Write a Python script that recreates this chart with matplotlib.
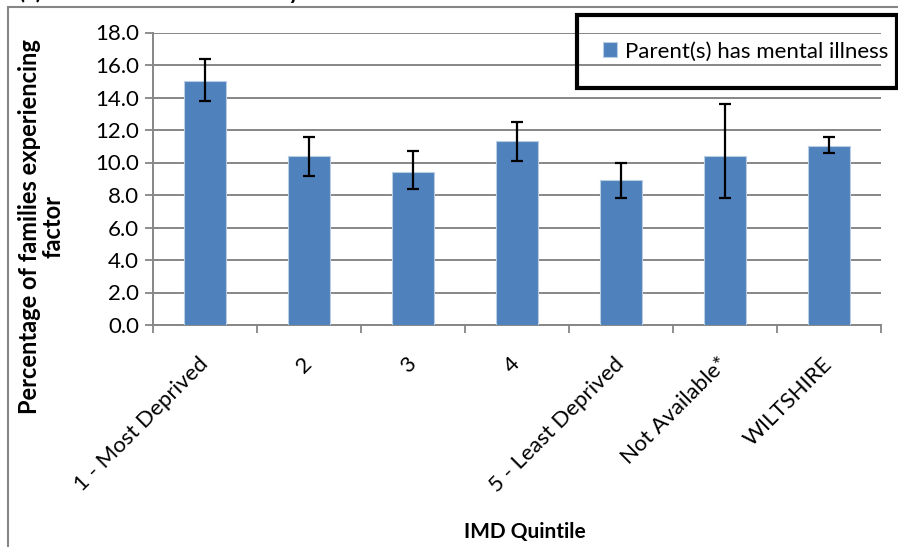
import numpy as np
import matplotlib.pyplot as plt
import matplotlib.transforms as mtransforms
from matplotlib.patches import Rectangle

# =========================
# DATA
# =========================
categories = ["1 - Most Deprived", "2", "3", "4", "5 - Least Deprived",
              "Not Available*", "WILTSHIRE"]
values = [15.0, 10.4, 9.4, 11.3, 8.9, 10.4, 11.0]
ci_upper = [16.4, 11.6, 10.7, 12.5, 10.0, 13.6, 11.6]
ci_lower = [13.8, 9.2, 8.4, 10.1, 7.8, 7.8, 10.6]
series_name = "Parent(s) has mental illness"
yticks = [0, 2, 4, 6, 8, 10, 12, 14, 16, 18]

# =========================
# STYLE
# =========================
plt.rcParams['font.family'] = ['Lato', 'DejaVu Sans']
bar_color = "#4F81BD"
axis_gray = "#868686"

W, H = 898, 547
fig = plt.figure(figsize=(W / 100, H / 100), dpi=100)
ax = fig.add_axes([153 / W, (H - 325) / H, 728 / W, 292.5 / H])

# =========================
# BARS + ERROR BARS
# =========================
x = np.arange(len(categories))
vals = np.array(values)
err = [vals - np.array(ci_lower), np.array(ci_upper) - vals]

ax.bar(x, vals, width=0.4, color=bar_color, edgecolor="#b9cde5",
       linewidth=0.8, label=series_name, zorder=3)
ax.errorbar(x, vals, yerr=err, fmt="none", ecolor="black", elinewidth=1.6,
            capsize=4.5, capthick=1.6, zorder=4)

# =========================
# AXES
# =========================
ax.set_xlim(-0.5, len(categories) - 0.5)
ax.set_ylim(0, 18)
ax.set_yticks(yticks)
ax.set_yticklabels([f"{v:.1f}" for v in yticks], fontsize=16)
ax.grid(axis="y", color=axis_gray, linewidth=1.4, zorder=0)
ax.set_axisbelow(True)

ax.set_xticks(x)
ax.set_xticklabels(categories, rotation=45, ha="right", va="center",
                   rotation_mode="anchor", fontsize=16)
shift = mtransforms.ScaledTranslation(4 / 100, 0, fig.dpi_scale_trans)
for lbl in ax.get_xticklabels():
    lbl.set_transform(lbl.get_transform() + shift)
ax.set_xticks(np.arange(len(categories) + 1) - 0.5, minor=True)
ax.tick_params(axis="x", which="major", length=0, pad=26)
ax.tick_params(axis="x", which="minor", length=6, width=1.3, color=axis_gray)
ax.tick_params(axis="y", length=6, width=1.3, color=axis_gray, pad=4)

for s in ["top", "right"]:
    ax.spines[s].set_visible(False)
for s in ["left", "bottom"]:
    ax.spines[s].set_color(axis_gray)
    ax.spines[s].set_linewidth(1.4)

ax.set_ylabel("Percentage of families experiencing\nfactor", fontsize=17,
              fontweight="bold", linespacing=1.0)
ax.yaxis.set_label_coords(-0.122, 0.338)
ax.set_xlabel("IMD Quintile", fontsize=15, fontweight="bold")
ax.xaxis.set_label_coords(0.511, -0.672)

# =========================
# LEGEND + FRAMES
# =========================
fig.patches.append(Rectangle((577 / W, (H - 88) / H), 320 / W, 73 / H,
                             transform=fig.transFigure, fill=False,
                             edgecolor="black", linewidth=3, zorder=5))
ax.legend(loc="center left", bbox_to_anchor=(587 / W, (H - 51.5) / H),
          bbox_transform=fig.transFigure, frameon=False, fontsize=16,
          handlelength=0.65, handleheight=0.65, handletextpad=0.35,
          borderpad=0.2)

# outer chart border (runs off the right and bottom of the image)
fig.patches.append(Rectangle((8 / W, -0.1), 1.2, 0.1 + (H - 7) / H,
                             transform=fig.transFigure, fill=False,
                             edgecolor=axis_gray, linewidth=1.5))

# title, cut off at the top of the image (only descenders show)
fig.text(300 / W, 1 + 1 / H, "(c) Parental mental illness by", ha="right",
         va="baseline", fontsize=16, fontweight="bold")

fig.savefig("out.png", dpi=100)
